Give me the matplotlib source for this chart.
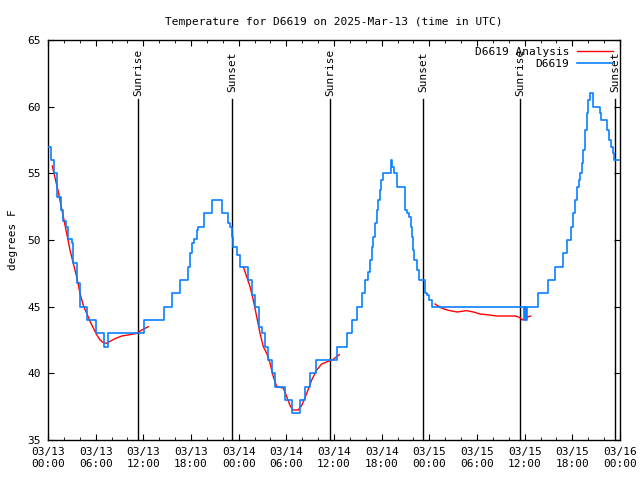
import numpy as np
import matplotlib
matplotlib.use("Agg")
from matplotlib import pyplot as plt
from matplotlib.ticker import MultipleLocator

# hours since 2025-03-13 00:00 UTC
obs_h = [0.0, 0.4, 0.79, 1.10, 1.60, 1.93, 2.27, 2.56, 2.98, 3.18, 3.61, 4.03, 4.87, 6.04,
         7.09, 7.59, 12.12, 14.64, 15.65, 16.65, 17.66, 17.88, 18.16, 18.42, 18.72, 18.92,
         19.64, 20.68, 21.94, 22.70, 22.91, 23.12, 23.33, 23.75, 24.17, 25.14, 25.72, 26.06,
         26.60, 26.90, 27.32, 27.73, 28.16, 28.57, 29.83, 30.75, 31.72, 32.35, 32.98, 33.74,
         36.34, 37.60, 38.27, 38.94, 39.49, 39.90, 40.32, 40.53, 40.75, 40.95, 41.16, 41.38,
         41.58, 41.79, 41.96, 42.13, 43.18, 43.34, 43.59, 43.90, 44.94, 45.23, 45.48, 45.63,
         45.78, 45.95, 46.07, 46.49, 46.74, 47.46, 47.75, 48.0, 48.30, 59.92, 60.08, 60.21,
         60.30, 61.72, 62.98, 63.82, 64.83, 65.33, 65.84, 66.09, 66.34, 66.59, 66.78, 66.97,
         67.18, 67.38, 67.60, 67.81, 68.01, 68.23, 68.64, 69.49, 69.61, 70.41, 70.66, 70.83,
         71.08, 71.25, 72.0]
obs_t = [57, 56, 55, 53.25, 52.25, 51.4, 51, 50.1, 49.75, 48.25, 46.75, 45, 44, 43,
         42, 43, 44, 45, 46, 47, 48, 49, 49.75, 50.1, 50.75, 51,
         52, 53, 52, 51.25, 51, 50.25, 49.5, 48.9, 48, 47, 45.9, 45,
         43.5, 43, 42, 41, 40, 39, 38, 37, 38, 39, 40, 41,
         42, 43, 44, 45, 46, 47, 47.6, 48.5, 49.5, 50.25, 51.25, 52.25,
         53, 53.75, 54.5, 55, 56, 55.5, 55, 54, 52.25, 52, 51.75, 51,
         50.25, 49.25, 48.5, 47.75, 47, 46, 45.9, 45.5, 45, 44, 45, 44,
         45, 46, 47, 48, 49, 50, 51, 52, 53, 54, 54.5, 55,
         55.75, 56.75, 58.25, 59.5, 60.5, 61, 60, 59.5, 59, 58.25, 57.5, 57,
         56.5, 56, 56]

an1_h = [0.54, 1.30, 2.01, 2.35, 2.77, 3.18, 3.61, 4.03, 4.44, 4.87, 5.29, 5.70, 6.13,
         6.55, 6.96, 7.39, 7.80, 8.43, 9.28, 10.32, 11.17, 11.80, 12.63]
an1_t = [55.55, 53.6, 51.5, 50.5, 49.25, 48.25, 47.25, 46, 45.1, 44.5, 43.9, 43.4, 42.9,
         42.5, 42.3, 42.25, 42.4, 42.6, 42.8, 42.9, 43.0, 43.25, 43.5]
an2_h = [24.58, 25.01, 25.43, 25.84, 26.27, 26.69, 27.10, 27.53, 27.95, 28.36, 28.79,
         29.62, 30.05, 30.46, 30.81, 31.51, 31.94, 32.57, 33.19, 33.82, 34.45, 35.28,
         35.91, 36.67]
an2_t = [48.0, 47.25, 46.5, 45.5, 44.25, 43, 42, 41.5, 40.75, 39.75, 39,
         38.9, 38.25, 37.6, 37.25, 37.25, 37.6, 38.5, 39.5, 40.25, 40.7, 40.9,
         41.05, 41.4]
an3_h = [48.72, 49.34, 49.97, 50.60, 51.52, 52.08, 52.71, 53.54, 54.38, 55.22, 56.48,
         58.79, 59.33, 59.76, 60.17, 60.76]
an3_t = [45.2, 44.95, 44.8, 44.7, 44.6, 44.65, 44.7, 44.6, 44.45, 44.4, 44.3,
         44.3, 44.2, 44.0, 44.2, 44.3]

sun_h = [11.33, 23.16, 35.5, 47.2, 59.4, 71.4]
sun_lbl = ["Sunrise", "Sunset", "Sunrise", "Sunset", "Sunrise", "Sunset"]

xtick_lbl = ["03/13\n00:00", "03/13\n06:00", "03/13\n12:00", "03/13\n18:00",
             "03/14\n00:00", "03/14\n06:00", "03/14\n12:00", "03/14\n18:00",
             "03/15\n00:00", "03/15\n06:00", "03/15\n12:00", "03/15\n18:00",
             "03/16\n00:00"]

plt.rcParams['font.family'] = ['DejaVu Sans Mono']
plt.rcParams['font.size'] = 8

fig = plt.figure(figsize=(6.4, 4.8), dpi=100)
ax = fig.add_axes([48/640, 40/480, 572/640, 400/480])

for i, (a_h, a_t) in enumerate([(an1_h, an1_t), (an2_h, an2_t), (an3_h, an3_t)]):
    ax.plot(a_h, a_t, color='#ff0000', lw=1.0, label='D6619 Analysis' if i == 0 else None, zorder=2)
ax.plot(obs_h, obs_t, color='#0a80ff', lw=1.2, drawstyle='steps-post', label='D6619', zorder=3)

for h, s in zip(sun_h, sun_lbl):
    ax.plot([h, h], [35, 60.6], color='black', lw=1.0, zorder=1)
    ax.text(h, 62.6, s, rotation=90, ha='center', va='center', fontsize=8)

ax.set_xlim(0, 72)
ax.set_ylim(35, 65)
ax.set_xticks(np.arange(0, 73, 6))
ax.set_xticklabels(xtick_lbl)
ax.xaxis.set_minor_locator(MultipleLocator(2))
ax.set_yticks(np.arange(35, 66, 5))
ax.tick_params(which='major', direction='in', length=4.5, top=True, right=True, pad=5)
ax.tick_params(which='minor', direction='in', length=2.2, top=True, right=True)
for sp in ax.spines.values():
    sp.set_linewidth(1.0)

ax.set_ylabel('degrees F', labelpad=7)
ax.set_title('Temperature for D6619 on 2025-Mar-13 (time in UTC)', fontsize=8, pad=11)

ax.legend(loc='upper right', frameon=False, markerfirst=False, handlelength=3.2,
          borderaxespad=0.25, labelspacing=0.15, handletextpad=0.7, fontsize=8)

fig.savefig('out.png', dpi=100)
